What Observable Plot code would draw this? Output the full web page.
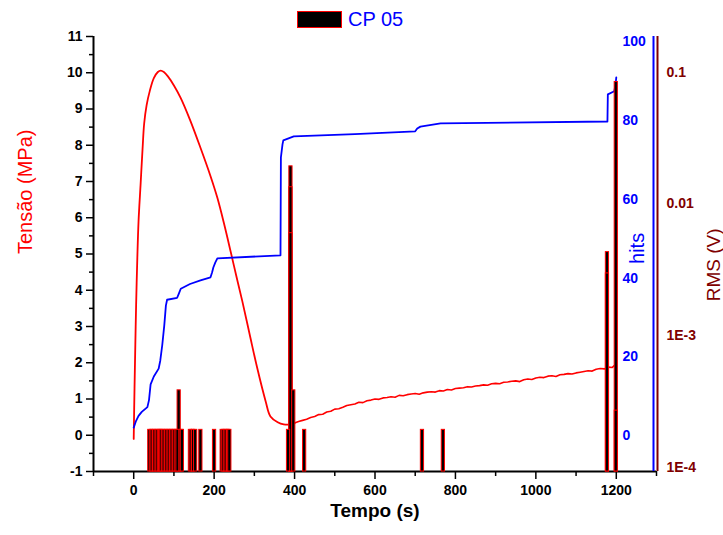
<!DOCTYPE html>
<html><head><meta charset="utf-8">
<script src="https://cdn.jsdelivr.net/npm/d3@7"></script>
<script src="https://cdn.jsdelivr.net/npm/@observablehq/plot@0.6"></script>
<style>
body{margin:0;background:#fff;}
#wrap{position:relative;width:723px;height:535px;font-family:"Liberation Sans",Arial,sans-serif;}
#wrap svg{position:absolute;left:0;top:0;}
#legend{position:absolute;left:297px;top:11px;height:17px;display:flex;align-items:center;}
#legend .sw{width:43px;height:15px;background:#000;border:1px solid #f00;}
#legend .lb{margin-left:6px;color:#00f;font-size:20px;line-height:17px;}
</style></head>
<body><div id="wrap"><div id="legend"><div class="sw"></div><div class="lb">CP 05</div></div></div>
<script>
// ---- data ----
const tensionTime = [0,2,4,6,9,12,17,22,26,32,40,50,60,67,75,85,100,117,140,166,190,208,225,241,255,270,288,307,328,340,358,373,390,
  400,410,420,430,440,450,460,470,480,490,500,510,520,530,540,550,560,570,580,590,600,610,620,630,640,650,660,670,680,690,700,710,720,730,740,750,760,770,780,790,800,810,820,830,840,850,860,870,880,890,900,910,920,930,940,950,960,970,980,990,1000,1010,1020,1030,1040,1050,1060,1070,1080,1090,1100,1110,1120,1130,1140,1150,1160,1170,1180,1190,1200];
const tensionValue = [-0.1,1.3,2.5,3.6,4.9,5.9,6.9,7.9,8.6,9.1,9.5,9.85,10.02,10.06,10.02,9.9,9.65,9.3,8.7,7.93,7.18,6.55,5.82,5.07,4.4,3.7,2.8,1.86,0.94,0.52,0.36,0.3,0.3,
  0.34,0.38,0.41,0.44,0.49,0.52,0.57,0.58,0.64,0.66,0.72,0.73,0.77,0.82,0.84,0.86,0.91,0.90,0.95,0.97,1.00,0.99,1.03,1.04,1.06,1.05,1.10,1.09,1.12,1.14,1.15,1.13,1.17,1.19,1.20,1.19,1.23,1.22,1.26,1.25,1.29,1.30,1.31,1.34,1.33,1.36,1.37,1.39,1.38,1.42,1.43,1.42,1.46,1.47,1.49,1.50,1.48,1.53,1.55,1.54,1.58,1.60,1.59,1.63,1.64,1.62,1.67,1.68,1.70,1.69,1.72,1.74,1.76,1.78,1.77,1.82,1.84,1.83,1.88,1.87,1.97];

const hitsTime = [0,5,12,20,34,38,42,50,62,66,71,76,80,83,108,112,117,140,166,191,195,198,203,208,365,366,370,372,398,550,700,705,713,763,1178,1179,1195,1198,1200];
const hitsValue = [2,3.5,5,6,7.2,9,13,15,17,19,23,28,33,34.5,35,36,37.3,38.5,39.4,40.2,41.5,42.7,44,45,45.8,70.7,74,75,76,76.6,77.3,78,78.5,79.3,79.8,86.7,87.5,89,91];

const barTime = [391,1178,1200,113,391,391,398,1178,1200,
  40,44,48,52,56,60,64,67,70,74,78,82,86,90,94,98,102,106,110,118,121,141,145,149,154,167,201,220,224,228,232,236,239,385,425,718,770];
const barRms  = [0.0193,0.00431,0.0843,0.000385,0.0134,0.006,0.000385,0.00297,0.00027,
  0.000193,0.000193,0.000193,0.000193,0.000193,0.000193,0.000193,0.000193,0.000193,0.000193,0.000193,0.000193,0.000193,0.000193,0.000193,0.000193,0.000193,0.000193,0.000193,0.000193,0.000193,0.000193,0.000193,0.000193,0.000193,0.000193,0.000193,0.000193,0.000193,0.000193,0.000193,0.000193,0.000193,0.000193,0.000193,0.000193,0.000193];

const xMajor = [0,200,400,600,800,1000,1200];
const xMinor = [-100,100,300,500,700,900,1100,1300];
const yMajor = [-1,0,1,2,3,4,5,6,7,8,9,10,11];
const yMinor = [-0.5,0.5,1.5,2.5,3.5,4.5,5.5,6.5,7.5,8.5,9.5,10.5];
const hitsTicks = [0,20,40,60,80,100];
const rmsTicks = [0.1,0.01,0.001,0.0001];
const rmsLabels = ["0.1","0.01","1E-3","1E-4"];

// ---- build ----
const tension = tensionTime.map((t,i)=>({t, v:tensionValue[i]}));
const hits = hitsTime.map((t,i)=>({t, v:hitsValue[i]}));
const bars = barTime.map((t,i)=>({t, v:barRms[i]}));
const rmsTickRows = rmsTicks.map((v,i)=>({v, label:rmsLabels[i]}));

const F = '"Liberation Sans", Arial, sans-serif';
const common = {width:723, height:535, marginTop:36, marginRight:67, marginBottom:64, marginLeft:93,
  style:{background:"transparent", fontFamily:F, overflow:"visible"}};
const xDom = [-100,1300];
const RED="#ff0000", BLUE="#0000ff", BROWN="#800000";
const rmsMin = 9.32e-5, rmsMax = 0.1866;

const p1 = Plot.plot({...common,
  x:{domain:xDom}, y:{domain:[-1,11]},
  marks:[
    Plot.axisX({ticks:xMajor, tickSize:8, tickPadding:6, fontSize:14, fontWeight:"bold", label:null, strokeWidth:1.5, tickFormat:d=>String(d)}),
    Plot.axisX({ticks:xMinor, tickSize:5, label:null, strokeWidth:1.5, tickFormat:()=>""}),
    Plot.axisY({ticks:yMajor, tickSize:7, tickPadding:4, fontSize:14, fontWeight:"bold", label:null, strokeWidth:1.5, tickFormat:d=>String(d)}),
    Plot.axisY({ticks:yMinor, tickSize:4, label:null, strokeWidth:1.5, tickFormat:()=>""}),
    Plot.ruleX([-100], {stroke:"black", strokeWidth:2}),
    Plot.ruleY([-1], {stroke:"black", strokeWidth:2}),
    Plot.line(tension.filter(d=>d.t<=400), {x:"t", y:"v", stroke:RED, strokeWidth:1.8, curve:"catmull-rom"}),
    Plot.line(tension.filter(d=>d.t>=400), {x:"t", y:"v", stroke:RED, strokeWidth:1.6}),
    Plot.text(["Tensão (MPa)"], {text:d=>d, frameAnchor:"left", dx:-68, rotate:-90, fill:RED, fontSize:20, fontWeight:"normal"}),
    Plot.text(["Tempo (s)"], {text:d=>d, frameAnchor:"bottom", dy:45, fill:"black", fontSize:19, fontWeight:"bold"})
  ]});

const p2 = Plot.plot({...common,
  x:{domain:xDom, axis:null}, y:{domain:[-9.15,101.4], axis:null},
  marks:[
    Plot.line(hits, {x:"t", y:"v", stroke:BLUE, strokeWidth:1.8}),
    Plot.ruleX([1300], {stroke:BLUE, strokeWidth:2, dx:-3}),
    Plot.text(hitsTicks, {y:d=>d, text:d=>String(d), frameAnchor:"right", dx:-34, textAnchor:"start", fill:BLUE, fontSize:14, fontWeight:"bold"}),
    Plot.text(["hits"], {y:()=>51.5, text:d=>d, frameAnchor:"right", dx:-19, rotate:-90, fill:BLUE, fontSize:20})
  ]});

const p3 = Plot.plot({...common,
  x:{domain:xDom, axis:null}, y:{type:"log", domain:[rmsMin, rmsMax], axis:null},
  marks:[
    Plot.rectY(bars, {x1:d=>d.t-4, x2:d=>d.t+4, y1:rmsMin, y2:"v", fill:"black", stroke:RED, strokeWidth:1}),
    Plot.ruleX([1300], {stroke:BROWN, strokeWidth:2, dx:1}),
    Plot.text(rmsTickRows, {y:"v", text:"label", frameAnchor:"right", dx:10, textAnchor:"start", fill:BROWN, fontSize:14, fontWeight:"bold"}),
    Plot.text(["RMS (V)"], {y:()=>0.00652, text:d=>d, frameAnchor:"right", dx:57, rotate:-90, fill:BROWN, fontSize:19})
  ]});

const wrap = document.getElementById("wrap");
wrap.insertBefore(p3, wrap.firstChild);
wrap.insertBefore(p2, wrap.firstChild);
wrap.insertBefore(p1, wrap.firstChild);
</script>
</body></html>
